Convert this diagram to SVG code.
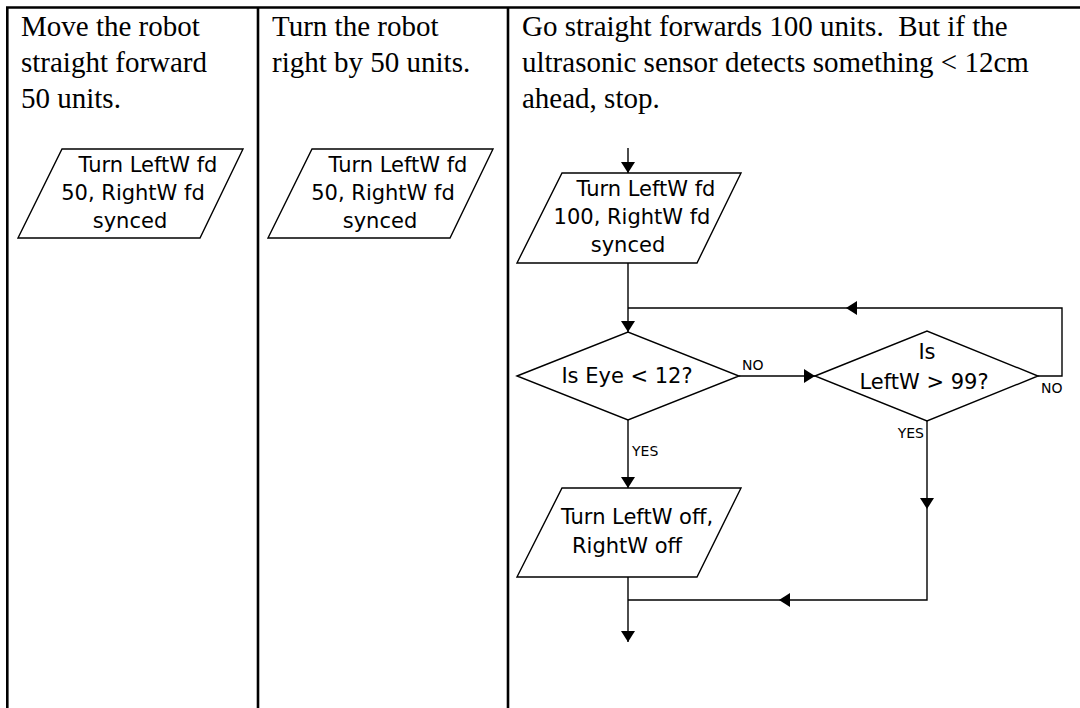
<svg xmlns="http://www.w3.org/2000/svg" width="1080" height="708" viewBox="0 0 1080 708">
<defs>
<style>
.hdr{font-family:"Liberation Serif","Times New Roman",serif;font-size:29px;fill:#000}
.fc{font-family:"DejaVu Sans",Verdana,sans-serif;font-size:21px;fill:#000;text-anchor:middle}
.lbl{font-family:"DejaVu Sans",Verdana,sans-serif;font-size:14px;fill:#000}
.shape{fill:#fff;stroke:#000;stroke-width:1.4}
.conn{fill:none;stroke:#000;stroke-width:1.4}
.grid{stroke:#000;stroke-width:2.6;fill:none}
</style>
<marker id="arr" markerUnits="userSpaceOnUse" markerWidth="12" markerHeight="16" refX="11" refY="7" orient="auto">
<path d="M0,0 L11,7 L0,14 z" fill="#000"/>
</marker>
</defs>
<rect width="1080" height="708" fill="#fff"/>
<g id="table">
<path class="grid" d="M6,7.5 H1080 M7.3,6.5 V708 M258,7.5 V708 M508,7.5 V708"/>
</g>
<g id="headers">
<text class="hdr" x="21" y="36">Move the robot</text>
<text class="hdr" x="21" y="72">straight forward</text>
<text class="hdr" x="21" y="108">50 units.</text>
<text class="hdr" x="272" y="36">Turn the robot</text>
<text class="hdr" x="272" y="72">right by 50 units.</text>
<text class="hdr" x="522" y="36" xml:space="preserve">Go straight forwards 100 units.  But if the</text>
<text class="hdr" x="522" y="72">ultrasonic sensor detects something &lt; 12cm</text>
<text class="hdr" x="522" y="108">ahead, stop.</text>
</g>
<g id="node-fwd50">
<polygon class="shape" points="62,149 243,149 200,238 18,238"/>
<text class="fc" x="148" y="172">Turn LeftW fd</text>
<text class="fc" x="133" y="200">50, RightW fd</text>
<text class="fc" x="130" y="228">synced</text>
</g>
<g id="node-rt50">
<polygon class="shape" points="312,149 493,149 450,238 268,238"/>
<text class="fc" x="398" y="172">Turn LeftW fd</text>
<text class="fc" x="383" y="200">50, RightW fd</text>
<text class="fc" x="380" y="228">synced</text>
</g>
<g id="node-fwd100">
<polygon class="shape" points="562,173 741,173 697,263 517,263"/>
<text class="fc" x="646" y="196">Turn LeftW fd</text>
<text class="fc" x="632" y="224">100, RightW fd</text>
<text class="fc" x="628" y="252">synced</text>
</g>
<g id="node-eye">
<polygon class="shape" points="517,376 628,332 739,376 628,420"/>
<text class="fc" x="627" y="383">Is Eye &lt; 12?</text>
</g>
<g id="node-leftw">
<polygon class="shape" points="815,376 927,331 1038,376 927,421"/>
<text class="fc" x="927" y="359">Is</text>
<text class="fc" x="924" y="389">LeftW &gt; 99?</text>
</g>
<g id="node-stop">
<polygon class="shape" points="562,488 741,488 697,577 517,577"/>
<text class="fc" x="637" y="524">Turn LeftW off,</text>
<text class="fc" x="627" y="553">RightW off</text>
</g>
<g id="connectors">
<path class="conn" d="M628,148 V173" marker-end="url(#arr)"/>
<path class="conn" d="M628,263 V332" marker-end="url(#arr)"/>
<path class="conn" d="M1038,376 H1062 V308 H846" marker-end="url(#arr)"/>
<path class="conn" d="M846,308 H628"/>
<path class="conn" d="M739,376 H815" marker-end="url(#arr)"/>
<path class="conn" d="M628,420 V488" marker-end="url(#arr)"/>
<path class="conn" d="M927,421 V509" marker-end="url(#arr)"/>
<path class="conn" d="M927,509 V600 H779" marker-end="url(#arr)"/>
<path class="conn" d="M779,600 H628"/>
<path class="conn" d="M628,577 V642" marker-end="url(#arr)"/>
<text class="lbl" x="742" y="370">NO</text>
<text class="lbl" x="632" y="456">YES</text>
<text class="lbl" x="1041" y="393">NO</text>
<text class="lbl" x="924" y="438" text-anchor="end">YES</text>
</g>
</svg>
